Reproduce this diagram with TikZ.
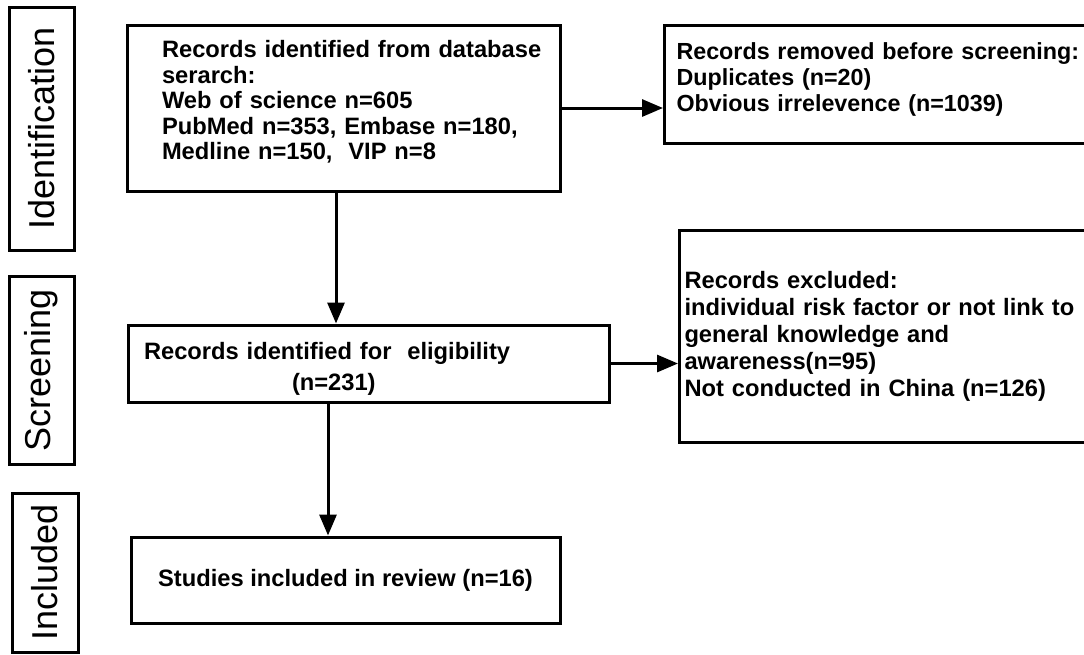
\documentclass[tikz,border=0pt]{standalone}
\usepackage{fontspec}
\setmainfont{Liberation Sans}
\usetikzlibrary{arrows.meta}
\begin{document}
\begin{tikzpicture}[x=1pt,y=-1pt,
  box/.style={draw=black, line width=3pt, rectangle, inner sep=0pt},
  body/.style={font=\fontsize{23.7}{25.5}\selectfont\bfseries},
  stage/.style={draw=black, line width=3pt, rectangle, rotate=90, inner sep=0pt,
    font=\fontsize{36}{40}\selectfont},
  arr/.style={line width=3pt, -{Triangle[width=17pt,length=21pt]}}]
\useasboundingbox (0,0) rectangle (1084,654);
\fill[white] (0,0) rectangle (1084,654);
% stage labels
\node[stage, minimum width=243pt, minimum height=65pt] (sid) at (41.5,128.5) {Identification};
\node[stage, minimum width=188pt, minimum height=65pt] (ssc) at (41.5,370) {Screening};
\node[stage, minimum width=159pt, minimum height=66pt] (sin) at (45,572.5) {Included};
% boxes
\node[box, body, minimum width=433pt, minimum height=166pt, text width=363pt,
  align=left, text depth=117.5pt] (b1) at (343.5,108)
  {\mbox{Records identified from database}\\ \mbox{serarch:}\\ \mbox{Web of science n=605}\\
   \mbox{PubMed n=353, Embase n=180,}\\ \mbox{Medline n=150,\ \ VIP n=8}};
\node[box, body, anchor=west, minimum width=440pt, minimum height=118pt, inner xsep=12pt,
  text width=416pt, align=left, text depth=65.3pt,
  font=\fontsize{23.3}{26}\selectfont\bfseries] (b2) at (663,84)
  {\mbox{Records removed before screening:}\\ \mbox{Duplicates (n=20)}\\ \mbox{Obvious irrelevence (n=1039)}};
\node[box, body, minimum width=481pt, minimum height=77pt, text width=449pt,
  align=left, text height=27pt,
  font=\fontsize{23.7}{31}\selectfont\bfseries] (b3) at (368.5,363.5)
  {\mbox{Records identified for\ \ eligibility}\\ \mbox{\hspace*{148pt}(n=231)}};
\node[box, body, anchor=west, minimum width=422pt, minimum height=212pt, inner xsep=5pt,
  text width=412pt, align=left,
  font=\fontsize{23.7}{27}\selectfont\bfseries] (b4) at (678,336)
  {\mbox{Records excluded:}\\ \mbox{individual risk factor or not link to}\\ \mbox{general knowledge and}\\
   \mbox{awareness(n=95)}\\ \mbox{Not conducted in China (n=126)}};
\node[box, body, minimum width=429pt, minimum height=86pt] (b5) at (345.5,580)
  {Studies included in review (n=16)};
% connectors
\draw[arr] (b1.south -| 336,0) -- (b3.north -| 336,0);
\draw[arr] (b1.east) -- (b2.west |- b1.east);
\draw[arr] (b3.east) -- (b4.west |- b3.east);
\draw[arr] (b3.south -| 328,0) -- (b5.north -| 328,0);
\end{tikzpicture}
\end{document}
